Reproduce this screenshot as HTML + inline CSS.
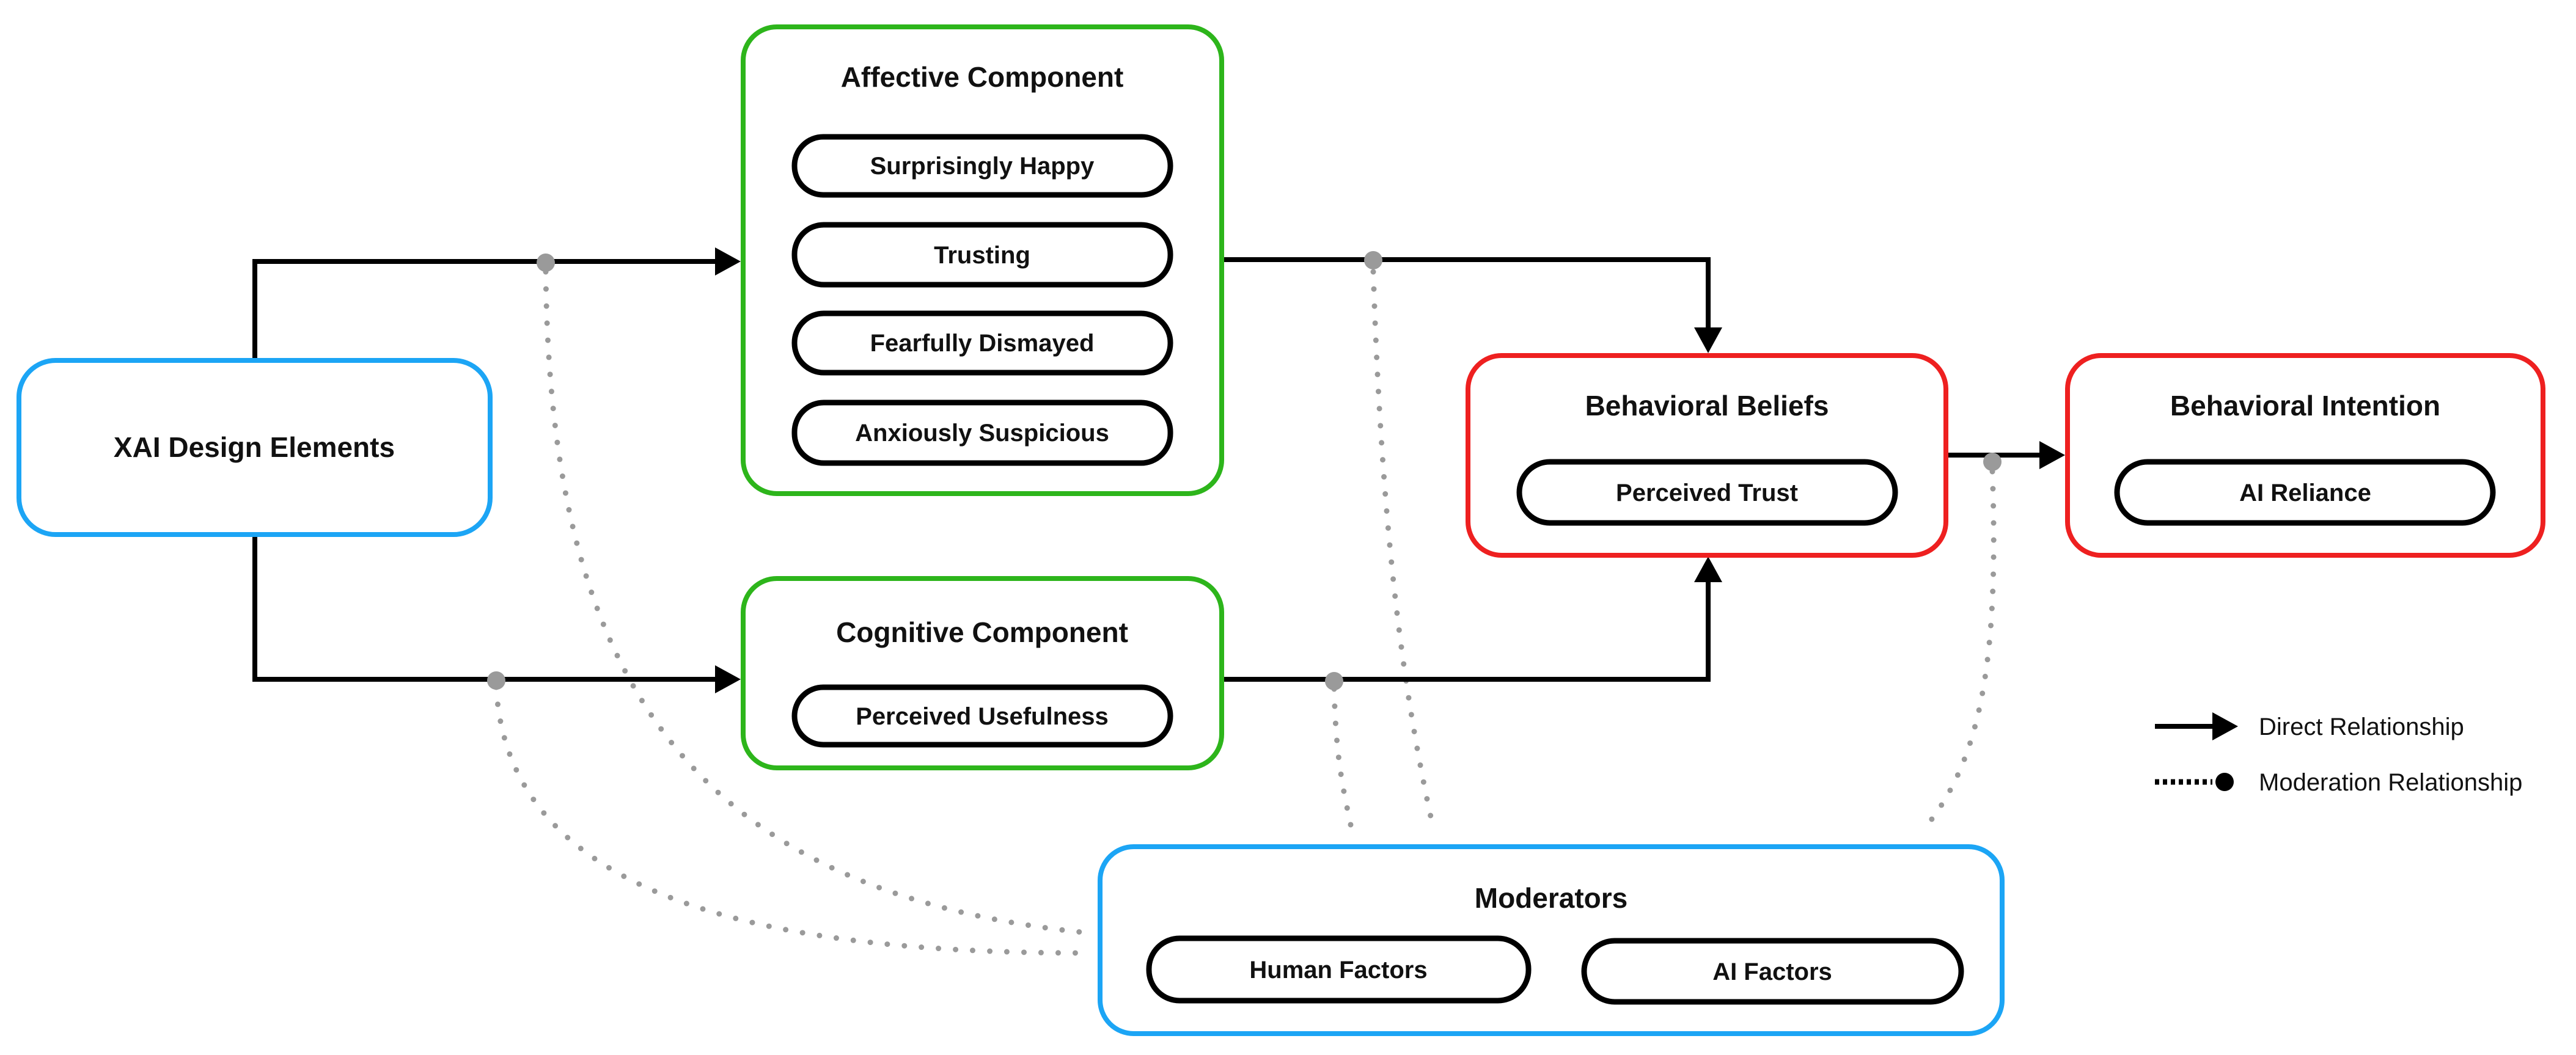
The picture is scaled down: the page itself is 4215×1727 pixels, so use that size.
<!DOCTYPE html>
<html><head><meta charset="utf-8"><style>html,body{margin:0;padding:0;background:#fff}svg{display:block}</style></head>
<body>
<svg width="4215" height="1727" viewBox="0 0 4215 1727" xmlns="http://www.w3.org/2000/svg" font-family="'Liberation Sans', sans-serif">
<rect width="4215" height="1727" fill="#fff"/>
<g fill="none" stroke="#9a9a9a" stroke-width="9" stroke-linecap="round" stroke-dasharray="0 28">
<path d="M893,445 C900,1100 1120,1460 1780,1527"/>
<path d="M812,1125 C830,1450 1200,1560 1775,1560"/>
<path d="M2247,445 C2262,900 2300,1150 2345,1355"/>
<path d="M2183,1128 C2186,1250 2200,1300 2211,1355"/>
<path d="M3260,772 C3272,1100 3235,1250 3150,1355"/>
</g>
<g fill="none" stroke="#000" stroke-width="8">
<path d="M417,586 V428 H1175"/>
<path d="M417,879 V1112 H1175"/>
<path d="M2003,425 H2795 V542"/>
<path d="M2003,1112 H2795 V948"/>
<path d="M3187,745 H3342"/>
<path d="M3526,1189 H3625"/>
<path d="M3526,1280 H3620" stroke-dasharray="7 6" stroke-width="9"/>
</g>
<g fill="#000">
<polygon points="1212,428 1170,405 1170,451"/>
<polygon points="1212,1112 1170,1089 1170,1135"/>
<polygon points="2795,578 2772,536 2818,536"/>
<polygon points="2795,911 2772,953 2818,953"/>
<polygon points="3379,745 3337,722 3337,768"/>
<polygon points="3662,1189 3620,1166 3620,1212"/>
<circle cx="3640" cy="1280" r="15"/>
</g>
<g fill="#9a9a9a">
<circle cx="893" cy="430" r="15"/>
<circle cx="812" cy="1114" r="15"/>
<circle cx="2247" cy="426" r="15"/>
<circle cx="2183" cy="1115" r="15"/>
<circle cx="3260" cy="756" r="15"/>
</g>
<g fill="#fff" stroke-width="8">
<rect x="31" y="590" width="771" height="285" rx="60" stroke="#1ca5f5"/>
<rect x="1216" y="44" width="783" height="764" rx="55" stroke="#2db51b"/>
<rect x="1216" y="947" width="783" height="310" rx="55" stroke="#2db51b"/>
<rect x="2402" y="582" width="782" height="327" rx="55" stroke="#ee2020"/>
<rect x="3383" y="582" width="778" height="327" rx="55" stroke="#ee2020"/>
<rect x="1800" y="1386" width="1476" height="306" rx="55" stroke="#1ca5f5"/>
</g>
<g fill="#fff" stroke="#000" stroke-width="9">
<rect x="1300" y="224" width="615" height="95" rx="47"/>
<rect x="1300" y="368" width="615" height="98" rx="48"/>
<rect x="1300" y="513" width="615" height="97" rx="48"/>
<rect x="1300" y="659" width="615" height="99" rx="48"/>
<rect x="1300" y="1125" width="615" height="94" rx="47"/>
<rect x="2486" y="756" width="615" height="100" rx="50"/>
<rect x="3464" y="756" width="615" height="100" rx="50"/>
<rect x="1880" y="1536" width="621" height="102" rx="50"/>
<rect x="2592" y="1540" width="617" height="100" rx="50"/>
</g>
<g font-weight="bold" font-size="46" text-anchor="middle" fill="#111">
<text x="416" y="748">XAI Design Elements</text>
<text x="1607" y="142">Affective Component</text>
<text x="1607" y="1051">Cognitive Component</text>
<text x="2793" y="680">Behavioral Beliefs</text>
<text x="3772" y="680">Behavioral Intention</text>
<text x="2538" y="1486">Moderators</text>
</g>
<g font-weight="bold" font-size="40" text-anchor="middle" fill="#111">
<text x="1607" y="285">Surprisingly Happy</text>
<text x="1607" y="431">Trusting</text>
<text x="1607" y="575">Fearfully Dismayed</text>
<text x="1607" y="722">Anxiously Suspicious</text>
<text x="1607" y="1186">Perceived Usefulness</text>
<text x="2793" y="820">Perceived Trust</text>
<text x="3772" y="820">AI Reliance</text>
<text x="2190" y="1601">Human Factors</text>
<text x="2900" y="1604">AI Factors</text>
</g>
<g font-size="40" fill="#111">
<text x="3696" y="1203">Direct Relationship</text>
<text x="3696" y="1294">Moderation Relationship</text>
</g>
</svg>
</body></html>
